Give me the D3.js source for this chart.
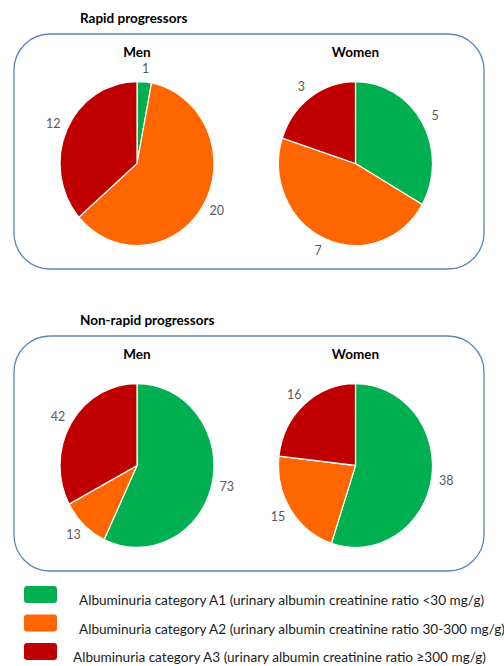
<!DOCTYPE html>
<html>
<head>
<meta charset="utf-8">
<script src="https://cdn.jsdelivr.net/npm/d3@7"></script>
<style>
  body { margin: 0; background: #fff; overflow: hidden; }
  text { font-family: Lato, "Open Sans", sans-serif; }
</style>
</head>
<body>
<div id="chart"></div>
<script>
(() => {

  // categories, same order in every pie (clockwise from 12 o'clock)
  let categories = ['A1', 'A2', 'A3'];
  let colors = ['#00b050', '#ff6600', '#c00000'];
  let legendLabels = [
    'Albuminuria category A1 (urinary albumin creatinine ratio <30 mg/g)',
    'Albuminuria category A2 (urinary albumin creatinine ratio 30-300 mg/g)',
    'Albuminuria category A3 (urinary albumin creatinine ratio \u2265300 mg/g)'
  ];

  let panelTitles = ['Rapid progressors', 'Non-rapid progressors'];
  let sexes = ['Men', 'Women'];

  // counts per category [A1, A2, A3]
  let rapidMen = [1, 20, 12];
  let rapidWomen = [5, 7, 3];
  let nonRapidMen = [73, 13, 42];
  let nonRapidWomen = [38, 15, 16];

  let panelData = [[rapidMen, rapidWomen], [nonRapidMen, nonRapidWomen]];

  let width = 504;
  let height = 666;

  let svg = d3.select('#chart')
    .append('svg')
    .attr('width', width)
    .attr('height', height);

  let color = d3.scaleOrdinal().domain(categories).range(colors);

  let radius = 77;
  let yStretch = 1.065; // pies in the picture are a little taller than wide
  let labelStretch = 1.035;
  let labelRadius = 92;

  let pie = d3.pie().sort(null).value(d => d.value);
  let arc = d3.arc().innerRadius(0).outerRadius(radius);
  let labelArc = d3.arc().innerRadius(labelRadius).outerRadius(labelRadius);

  let panelTop = [34, 336];
  let pieX = [137, 355.5];

  panelTitles.forEach((title, p) => {
    let top = panelTop[p];

    svg.append('text')
      .attr('x', 80)
      .attr('y', top - 11)
      .style('font-size', '13.5px')
      .style('font-weight', 'bold')
      .style('fill', '#000')
      .text(title);

    svg.append('rect')
      .attr('x', 14)
      .attr('y', top)
      .attr('width', 470)
      .attr('height', 235)
      .attr('rx', 36)
      .attr('ry', 36)
      .style('fill', 'none')
      .style('stroke', '#5b86b8')
      .style('stroke-width', 1.3);

    sexes.forEach((sex, s) => {
      let cx = pieX[s];
      let cy = top + 129.5;

      svg.append('text')
        .attr('x', cx)
        .attr('y', top + 23)
        .attr('text-anchor', 'middle')
        .style('font-size', '13.5px')
        .style('font-weight', 'bold')
        .style('fill', '#000')
        .text(sex);

      let values = panelData[p][s].map((v, i) => ({ cat: categories[i], value: v }));
      let arcs = pie(values);

      let g = svg.append('g')
        .attr('transform', `translate(${cx}, ${cy}) scale(1, ${yStretch})`);

      g.selectAll('.slice')
        .data(arcs)
        .enter()
        .append('path')
        .attr('class', 'slice')
        .attr('d', arc)
        .style('fill', d => color(d.data.cat))
        .style('stroke', '#fff')
        .style('stroke-width', 1.2);

      svg.selectAll(null)
        .data(arcs)
        .enter()
        .append('text')
        .attr('x', d => cx + labelArc.centroid(d)[0])
        .attr('y', d => cy + labelArc.centroid(d)[1] * labelStretch)
        .attr('text-anchor', 'middle')
        .attr('dy', '0.35em')
        .style('font-size', '12.5px')
        .style('fill', '#595959')
        .text(d => d.data.value);
    });
  });

  // legend
  let legendY = [594.5, 623, 651.5];
  let legendTextX = [79, 79, 73];

  let legend = svg.selectAll('.legend')
    .data(legendLabels)
    .enter()
    .append('g')
    .attr('class', 'legend');

  legend.append('rect')
    .attr('x', 24)
    .attr('y', (d, i) => legendY[i] - 8.5)
    .attr('width', 33)
    .attr('height', 17)
    .attr('rx', 3)
    .style('fill', (d, i) => colors[i]);

  legend.append('text')
    .attr('x', (d, i) => legendTextX[i])
    .attr('y', (d, i) => legendY[i] + 6)
    .attr('dy', '0.35em')
    .style('font-size', '13.6px')
    .style('fill', '#1a1a1a')
    .text(d => d);

})()
</script>
</body>
</html>
